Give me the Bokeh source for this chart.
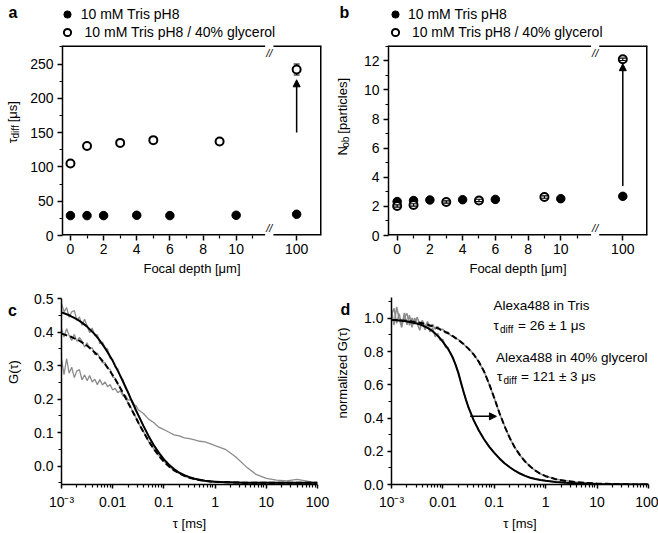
import math
from bokeh.plotting import figure
from bokeh.layouts import row, column
from bokeh.models import (Range1d, FixedTicker, NumeralTickFormatter, Label,
                          Arrow, NormalHead, Whisker, TeeHead, ColumnDataSource,
                          Legend, LegendItem)
from bokeh.embed import file_html
from bokeh.resources import INLINE

FONT = "Liberation Sans"
GRAY = "#8c8c8c"

# ---------------- panel a / b data ----------------
depth_tris = [0, 1, 2, 4, 6, 10, 100]
depth_gly = [0, 1, 3, 5, 9, 100]
tdiff_tris = [29, 29, 29, 29.5, 29, 29.5, 31]
tdiff_gly = [105, 130.5, 135, 139, 137, 242]
tdiff_gly_err = [2, 2, 2, 2, 2, 8]
nob_tris = [2.33, 2.40, 2.44, 2.46, 2.48, 2.53, 2.69]
nob_gly = [2.03, 2.10, 2.30, 2.41, 2.64, 12.1]
nob_gly_err = [0.08, 0.08, 0.08, 0.08, 0.08, 0.08]
depth_ticks = [0, 2, 4, 6, 8, 10, 100]
depth_minor = [1, 3, 5, 7, 9, 11]
arrow_a = (150, 227)
arrow_b = (3.4, 11.8)
legend_labels = ["10 mM Tris pH8", "\u00a010 mM Tris pH8 / 40% glycerol"]

# ---------------- panel c / d data ----------------
tau = [0.001, 0.00112, 0.00126, 0.00141, 0.00158, 0.00178, 0.002, 0.00224, 0.00251, 0.00282,
       0.00316, 0.00355, 0.00398, 0.00447, 0.00501, 0.00562, 0.00631, 0.00708, 0.00794, 0.00891,
       0.01, 0.0112, 0.0126, 0.0141, 0.0158, 0.0178, 0.02, 0.0224, 0.0251, 0.0282,
       0.0316, 0.0398, 0.0501, 0.0631, 0.0794, 0.1, 0.126, 0.158, 0.2, 0.251,
       0.316, 0.398, 0.501, 0.631, 0.794, 1.0, 1.58, 2.51, 3.98, 6.31,
       10.0, 15.8, 25.1, 39.8, 63.1, 100.0]

g_c_data1 = [0.486, 0.460, 0.473, 0.444, 0.460, 0.464, 0.434, 0.445, 0.420, 0.438,
             0.419, 0.398, 0.412, 0.389, 0.392, 0.365, 0.370, 0.353, 0.349, 0.321,
             0.318, 0.294, 0.290, 0.266, 0.258, 0.232, 0.222, 0.200, 0.189, 0.166,
             0.153, 0.121, 0.089, 0.064, 0.040, 0.021, 0.004, -0.010, -0.020, -0.028,
             -0.033, -0.038, -0.042, -0.044, -0.046, -0.047, -0.048, -0.049, -0.050, -0.049,
             -0.050, -0.051, -0.050, -0.050, -0.051, -0.050]
g_c_data2 = [0.410, 0.385, 0.410, 0.390, 0.375, 0.393, 0.372, 0.384, 0.373, 0.355,
             0.368, 0.349, 0.353, 0.332, 0.337, 0.323, 0.308, 0.309, 0.290, 0.289,
             0.266, 0.262, 0.243, 0.236, 0.215, 0.206, 0.186, 0.177, 0.158, 0.146,
             0.129, 0.103, 0.074, 0.052, 0.031, 0.014, -0.001, -0.013, -0.022, -0.030,
             -0.035, -0.039, -0.042, -0.044, -0.046, -0.047, -0.048, -0.049, -0.050, -0.050,
             -0.049, -0.050, -0.050, -0.051, -0.050, -0.050]
g_c_data3 = [0.320, 0.273, 0.321, 0.277, 0.295, 0.264, 0.284, 0.288, 0.257, 0.272,
             0.255, 0.270, 0.251, 0.259, 0.243, 0.258, 0.242, 0.251, 0.237, 0.243,
             0.227, 0.232, 0.219, 0.225, 0.209, 0.211, 0.197, 0.198, 0.182, 0.181,
             0.168, 0.157, 0.140, 0.130, 0.116, 0.109, 0.101, 0.093, 0.090, 0.084,
             0.082, 0.078, 0.074, 0.072, 0.067, 0.061, 0.050, 0.028, -0.001, -0.025,
             -0.037, -0.042, -0.044, -0.040, -0.045, -0.052]
g_c_fit1 = [0.458, 0.456, 0.453, 0.450, 0.446, 0.442, 0.438, 0.433, 0.428, 0.422,
            0.416, 0.408, 0.401, 0.393, 0.384, 0.374, 0.363, 0.352, 0.340, 0.327,
            0.314, 0.299, 0.284, 0.269, 0.253, 0.236, 0.219, 0.202, 0.186, 0.168,
            0.152, 0.120, 0.090, 0.063, 0.040, 0.020, 0.004, -0.009, -0.020, -0.027,
            -0.033, -0.038, -0.041, -0.044, -0.045, -0.047, -0.048, -0.049, -0.050, -0.050,
            -0.050, -0.050, -0.050, -0.050, -0.050, -0.050]
g_c_fit2 = [0.395, 0.393, 0.390, 0.388, 0.385, 0.381, 0.378, 0.374, 0.369, 0.364,
            0.359, 0.353, 0.346, 0.339, 0.331, 0.323, 0.314, 0.304, 0.294, 0.283,
            0.271, 0.259, 0.246, 0.232, 0.219, 0.204, 0.189, 0.174, 0.160, 0.145,
            0.130, 0.102, 0.075, 0.052, 0.031, 0.013, -0.001, -0.013, -0.022, -0.029,
            -0.035, -0.039, -0.042, -0.044, -0.046, -0.047, -0.048, -0.049, -0.050, -0.050,
            -0.050, -0.050, -0.050, -0.050, -0.050, -0.050]

g_d_data1 = [1.050, 0.959, 1.068, 0.997, 0.945, 1.033, 0.961, 1.018, 0.945, 1.002,
             0.968, 0.928, 0.987, 0.930, 0.967, 0.918, 0.942, 0.889, 0.909, 0.867,
             0.873, 0.825, 0.825, 0.782, 0.766, 0.712, 0.676, 0.610, 0.564, 0.505,
             0.464, 0.387, 0.324, 0.273, 0.227, 0.191, 0.157, 0.128, 0.104, 0.083,
             0.066, 0.052, 0.041, 0.033, 0.027, 0.022, 0.015, 0.010, 0.007, 0.005,
             0.003, 0.002, 0.001, 0.000, 0.000, 0.000]
g_d_data2 = [1.020, 1.060, 0.969, 1.028, 0.957, 1.006, 1.030, 0.958, 1.001, 0.964,
             1.006, 0.963, 0.985, 0.946, 0.980, 0.947, 0.964, 0.934, 0.950, 0.927,
             0.934, 0.912, 0.916, 0.896, 0.895, 0.877, 0.873, 0.855, 0.847, 0.829,
             0.818, 0.783, 0.737, 0.681, 0.604, 0.521, 0.429, 0.353, 0.279, 0.223,
             0.176, 0.139, 0.107, 0.084, 0.063, 0.051, 0.031, 0.022, 0.013, 0.010,
             0.005, 0.004, 0.001, 0.002, 0.000, 0.001]
g_d_fit1 = [0.990, 0.989, 0.988, 0.987, 0.985, 0.983, 0.981, 0.978, 0.975, 0.972,
            0.968, 0.963, 0.957, 0.950, 0.942, 0.933, 0.922, 0.909, 0.894, 0.877,
            0.858, 0.837, 0.815, 0.790, 0.758, 0.718, 0.670, 0.615, 0.560, 0.508,
            0.462, 0.386, 0.325, 0.272, 0.228, 0.190, 0.157, 0.128, 0.104, 0.083,
            0.066, 0.052, 0.041, 0.033, 0.027, 0.022, 0.015, 0.010, 0.007, 0.005,
            0.003, 0.002, 0.001, 0.000, 0.000, 0.000]
g_d_fit2 = [0.990, 0.990, 0.989, 0.988, 0.987, 0.986, 0.985, 0.983, 0.981, 0.979,
            0.976, 0.973, 0.970, 0.966, 0.962, 0.957, 0.952, 0.946, 0.940, 0.933,
            0.926, 0.918, 0.910, 0.901, 0.891, 0.881, 0.870, 0.858, 0.845, 0.831,
            0.816, 0.782, 0.738, 0.680, 0.605, 0.520, 0.430, 0.352, 0.280, 0.222,
            0.177, 0.138, 0.108, 0.083, 0.064, 0.050, 0.032, 0.021, 0.014, 0.009,
            0.006, 0.004, 0.002, 0.001, 0.000, 0.000]
arrow_d = (0.034, 0.11, 0.41)

log_ticks = [0.001, 0.01, 0.1, 1, 10, 100]
log_labels = {0.001: "10\u207b\u00b3", 0.01: "0.01", 0.1: "0.1", 1: "1", 10: "10", 100: "100"}
log_minor = [m * 10.0 ** k for k in range(-3, 2) for m in range(2, 10)]


def style_axis(ax, tick_out=5, standoff=3):
    ax.axis_line_width = 1.5
    ax.axis_line_color = "black"
    ax.major_tick_line_width = 1.5
    ax.minor_tick_line_width = 1.2
    ax.major_tick_line_color = "black"
    ax.minor_tick_line_color = "black"
    ax.major_tick_out = tick_out
    ax.major_tick_in = 0
    ax.minor_tick_out = 3
    ax.minor_tick_in = 0
    ax.major_label_text_font = FONT
    ax.major_label_text_font_size = "14px"
    ax.major_label_text_color = "black"
    ax.major_label_standoff = standoff
    ax.axis_label_text_font = FONT
    ax.axis_label_text_font_size = "13px"
    ax.axis_label_text_font_style = "normal"
    ax.axis_label_text_color = "black"
    ax.axis_label_standoff = 4


def make_fig(w, h, xr, yr, borders, xlog=False, tick_out=5):
    l, r, t, b = borders
    p = figure(width=w, height=h, x_range=xr, y_range=yr,
               x_axis_type="log" if xlog else "linear",
               output_backend="svg", toolbar_location=None,
               min_border_left=l, min_border_right=r,
               min_border_top=t, min_border_bottom=b)
    p.xgrid.visible = False
    p.ygrid.visible = False
    p.outline_line_color = None
    p.background_fill_color = "white"
    p.border_fill_color = "white"
    style_axis(p.xaxis[0], tick_out, 3)
    style_axis(p.yaxis[0], tick_out, 4)
    return p


def blank(w, h):
    """Text-only strip: its frame fills it; data units = pixels from top-left."""
    p = figure(width=w, height=h, x_range=Range1d(0, w), y_range=Range1d(h, 0),
               x_axis_type=None, y_axis_type=None, output_backend="svg",
               toolbar_location=None, min_border=0)
    p.outline_line_color = None
    p.background_fill_color = "white"
    p.border_fill_color = "white"
    return p


def txt(p, x, y, text, dx=0, dy=0, size="14px", align="left", baseline="middle",
        angle=0.0, style="normal"):
    p.add_layout(Label(x=x, y=y, x_offset=dx, y_offset=dy, text=text, text_font=FONT,
                       text_font_size=size, text_align=align, text_baseline=baseline,
                       angle=angle, text_font_style=style, text_color="black"))


def depth_panel(w_strip, w_main, borders, xr, yr, pos100, brk, gap, yticks, yminor,
                y_tris, y_gly, y_err, err_level, arr, letter, letter_x, legend_x, standoff,
                ylab_x, ylab_parts):
    # header with panel letter and legend (dummy points lie outside the header's ranges)
    head = blank(w_strip + w_main, 45)
    h1 = head.scatter([-999], [-999], marker="circle", size=8.5, fill_color="black",
                      line_color="black")
    h2 = head.scatter([-999], [-999], marker="circle", size=8, fill_color="white",
                      line_color="black", line_width=2)
    head.add_layout(Legend(items=[LegendItem(label=legend_labels[0], renderers=[h1]),
                                  LegendItem(label=legend_labels[1], renderers=[h2])],
                           location=(legend_x, 4), orientation="vertical",
                           glyph_width=20, glyph_height=18, label_height=18,
                           label_standoff=standoff, spacing=0, padding=0, margin=0,
                           background_fill_alpha=0, border_line_alpha=0,
                           label_text_font=FONT, label_text_font_size="14px",
                           label_text_color="black"))
    txt(head, letter_x, 11.5, letter, size="16px", align="center", style="bold")

    # strip with the y-axis title
    strip = blank(w_strip, 235)
    for (t, yy, sz, sub) in ylab_parts:
        txt(strip, ylab_x + (3 if sub else 0), yy, t, size=sz, align="left",
            angle=math.pi / 2)

    p = make_fig(w_main, 235, xr, yr, borders)
    pos = lambda d: d if d <= 10 else pos100
    p.xaxis.ticker = FixedTicker(ticks=[pos(v) for v in depth_ticks], minor_ticks=depth_minor)
    p.xaxis.major_label_overrides = {pos100: "100"}
    p.xaxis.axis_label = "Focal depth [\u03bcm]"
    p.xaxis.axis_line_color = None
    p.yaxis.ticker = FixedTicker(ticks=yticks, minor_ticks=yminor)
    # box edges (top and bottom broken at the axis break)
    p.segment(x0=[xr.start, brk + gap, xr.start, brk + gap, xr.end],
              y0=[yr.end, yr.end, yr.start, yr.start, yr.start],
              x1=[brk - gap, xr.end, brk - gap, xr.end, xr.end],
              y1=[yr.end, yr.end, yr.start, yr.start, yr.end],
              line_color="black", line_width=3)
    src = ColumnDataSource(dict(base=[pos(v) for v in depth_gly],
                                upper=[a + e for a, e in zip(y_gly, y_err)],
                                lower=[a - e for a, e in zip(y_gly, y_err)]))
    wh = Whisker(source=src, base="base", upper="upper", lower="lower", dimension="height",
                 line_color="black", line_width=1.2, level=err_level,
                 upper_head=TeeHead(size=6, line_width=1.2),
                 lower_head=TeeHead(size=6, line_width=1.2))
    p.scatter([pos(v) for v in depth_tris], y_tris, marker="circle", size=8.5,
              fill_color="black", line_color="black")
    p.scatter([pos(v) for v in depth_gly], y_gly, marker="circle", size=8,
              fill_color="white", line_color="black", line_width=2)
    p.add_layout(wh)
    p.add_layout(Arrow(end=NormalHead(size=7, fill_color="black", line_color="black"),
                       x_start=pos100, y_start=arr[0], x_end=pos100, y_end=arr[1],
                       line_width=1.5, line_color="black"))
    # axis-break marks, kept just inside the frame
    txt(p, brk, yr.end, "//", 0, -7.5, size="11px", align="center", style="italic")
    txt(p, brk, yr.start, "//", 0, 7.5, size="11px", align="center", style="italic")
    return column(head, row(strip, p))


col_a = depth_panel(27, 303, (33, 9, 0, 45), Range1d(-0.48, 15.15), Range1d(0, 277),
                    13.65, 12.0, 0.25,
                    [0, 50, 100, 150, 200, 250], [25, 75, 125, 175, 225, 275],
                    tdiff_tris, tdiff_gly, tdiff_gly_err, "underlay", arrow_a,
                    "a", 12.5, 56.7, 4, 12,
                    [("\u03c4", 121, "13px", False), ("diff", 115, "10px", True),
                     ("[\u03bcs]", 95, "13px", False)])
col_b = depth_panel(30, 298, (27, 11, 0, 45), Range1d(-0.53, 15.3), Range1d(0, 13.05),
                    13.79, 12.1, 0.25,
                    [0, 2, 4, 6, 8, 10, 12], [1, 3, 5, 7, 9, 11, 13],
                    nob_tris, nob_gly, nob_gly_err, "annotation", arrow_b,
                    "b", 14, 55, 3, 12,
                    [("N", 136, "13px", False), ("ob", 126.6, "10px", True),
                     ("[particles]", 109, "13px", False)])


def fcs_panel(w_strip, w_main, borders, yr, yticks, yminor, letter, letter_xy, ylab, ylab_xy):
    strip = blank(w_strip, 253)
    txt(strip, letter_xy[0], letter_xy[1], letter, size="16px", align="center", style="bold")
    txt(strip, ylab_xy[0], ylab_xy[1], ylab, size="13px", align="center", angle=math.pi / 2)
    p = make_fig(w_main, 253, Range1d(0.001, 100), yr, borders, xlog=True, tick_out=4)
    p.xaxis.ticker = FixedTicker(ticks=log_ticks, minor_ticks=log_minor)
    p.xaxis.major_label_overrides = log_labels
    p.xaxis.axis_label = "\u03c4 [ms]"
    p.xaxis.axis_label_standoff = 3
    p.xaxis.major_label_standoff = 5
    p.yaxis.ticker = FixedTicker(ticks=yticks, minor_ticks=yminor)
    p.yaxis.formatter = NumeralTickFormatter(format="0.0")
    return strip, p


strip_c, pc = fcs_panel(31, 299, (28, 13, 18, 44), Range1d(-0.055, 0.5),
                        [0.0, 0.1, 0.2, 0.3, 0.4, 0.5], [-0.05, 0.05, 0.15, 0.25, 0.35, 0.45],
                        "c", (12, 16), "G(\u03c4)", (13, 100))
for g in (g_c_data1, g_c_data2, g_c_data3):
    pc.line(tau, g, line_color=GRAY, line_width=1.3)
pc.line(tau, g_c_fit1, line_color="black", line_width=2)
pc.line(tau, g_c_fit2, line_color="black", line_width=2, line_dash="6 3")

strip_d, pd = fcs_panel(31, 297, (28, 10, 17, 44), Range1d(0.0, 1.125),
                        [0.0, 0.2, 0.4, 0.6, 0.8, 1.0], [0.1, 0.3, 0.5, 0.7, 0.9, 1.1],
                        "d", (15, 16.7), "normalized G(\u03c4)", (12, 102))
for g in (g_d_data1, g_d_data2):
    pd.line(tau, g, line_color=GRAY, line_width=1.5)
pd.line(tau, g_d_fit1, line_color="black", line_width=2)
pd.line(tau, g_d_fit2, line_color="black", line_width=2, line_dash="6 3")
pd.add_layout(Arrow(end=NormalHead(size=7, fill_color="black", line_color="black"),
                    x_start=arrow_d[0], y_start=arrow_d[2], x_end=arrow_d[1], y_end=arrow_d[2],
                    line_width=1.5, line_color="black"))
FS = "13.5px"
txt(pd, 0.001, 1.125, "Alexa488 in Tris", 102, -8, size=FS)
txt(pd, 0.001, 1.125, "\u03c4", 102, -28, size=FS)
txt(pd, 0.001, 1.125, "diff", 108.5, -32, size="10px")
txt(pd, 0.001, 1.125, "= 26 \u00b1 1 \u03bcs", 126.5, -28, size=FS)
txt(pd, 0.001, 1.125, "Alexa488 in 40% glycerol", 104.5, -60, size=FS)
txt(pd, 0.001, 1.125, "\u03c4", 105.5, -79, size=FS)
txt(pd, 0.001, 1.125, "diff", 112, -83, size="10px")
txt(pd, 0.001, 1.125, "= 121 \u00b1 3 \u03bcs", 129.5, -79, size=FS)

layout = column(row(col_a, col_b), row(row(strip_c, pc), row(strip_d, pd)))
open("out.html", "w").write(file_html(layout, INLINE, "FCS figure"))
